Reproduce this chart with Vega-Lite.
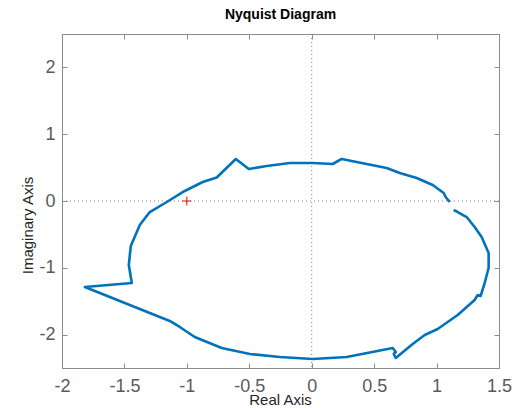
{
  "$schema": "https://vega.github.io/schema/vega-lite/v6.json",
  "width": 437,
  "height": 334,
  "autosize": {"type": "none"},
  "padding": {"left": 62, "top": 34, "right": 15, "bottom": 40},
  "background": "white",
  "title": {"text": "Nyquist Diagram", "fontSize": 14, "font": "Liberation Sans", "fontWeight": "bold", "color": "#000000", "offset": 12, "anchor": "middle"},
  "config": {
    "view": {"stroke": "#8c8c8c", "strokeWidth": 1},
    "axis": {
      "grid": false,
      "domainColor": "#8c8c8c",
      "tickColor": "#8c8c8c",
      "tickSize": -5,
      "labelFont": "Liberation Sans",
      "labelFontSize": 18,
      "labelColor": "#5a5a5a",
      "titleFont": "Liberation Sans",
      "titleFontSize": 15,
      "titleFontWeight": "normal",
      "titleColor": "#262626"
    }
  },
  "datasets": {
    "curve": [
      {"i": 1, "re": 1.137, "im": -0.135},
      {"i": 2, "re": 1.169, "im": -0.165},
      {"i": 3, "re": 1.241, "im": -0.240},
      {"i": 4, "re": 1.305, "im": -0.389},
      {"i": 5, "re": 1.361, "im": -0.539},
      {"i": 6, "re": 1.417, "im": -0.778},
      {"i": 7, "re": 1.417, "im": -1.003},
      {"i": 8, "re": 1.385, "im": -1.228},
      {"i": 9, "re": 1.353, "im": -1.422},
      {"i": 10, "re": 1.329, "im": -1.407},
      {"i": 11, "re": 1.305, "im": -1.482},
      {"i": 12, "re": 1.169, "im": -1.707},
      {"i": 13, "re": 1.009, "im": -1.916},
      {"i": 14, "re": 0.905, "im": -2.006},
      {"i": 15, "re": 0.809, "im": -2.141},
      {"i": 16, "re": 0.673, "im": -2.350},
      {"i": 17, "re": 0.657, "im": -2.290},
      {"i": 18, "re": 0.673, "im": -2.260},
      {"i": 19, "re": 0.649, "im": -2.201},
      {"i": 20, "re": 0.280, "im": -2.335},
      {"i": 21, "re": 0.008, "im": -2.365},
      {"i": 22, "re": -0.256, "im": -2.335},
      {"i": 23, "re": -0.496, "im": -2.290},
      {"i": 24, "re": -0.721, "im": -2.201},
      {"i": 25, "re": -0.937, "im": -2.036},
      {"i": 26, "re": -1.057, "im": -1.886},
      {"i": 27, "re": -1.137, "im": -1.796},
      {"i": 28, "re": -1.817, "im": -1.287},
      {"i": 29, "re": -1.441, "im": -1.228},
      {"i": 30, "re": -1.465, "im": -0.958},
      {"i": 31, "re": -1.449, "im": -0.674},
      {"i": 32, "re": -1.377, "im": -0.359},
      {"i": 33, "re": -1.297, "im": -0.165},
      {"i": 34, "re": -1.161, "im": -0.015},
      {"i": 35, "re": -1.017, "im": 0.150},
      {"i": 36, "re": -0.873, "im": 0.284},
      {"i": 37, "re": -0.761, "im": 0.352},
      {"i": 38, "re": -0.608, "im": 0.629},
      {"i": 39, "re": -0.504, "im": 0.479},
      {"i": 40, "re": -0.360, "im": 0.524},
      {"i": 41, "re": -0.176, "im": 0.569},
      {"i": 42, "re": 0.008, "im": 0.569},
      {"i": 43, "re": 0.168, "im": 0.554},
      {"i": 44, "re": 0.240, "im": 0.629},
      {"i": 45, "re": 0.440, "im": 0.554},
      {"i": 46, "re": 0.600, "im": 0.494},
      {"i": 47, "re": 0.705, "im": 0.419},
      {"i": 48, "re": 0.841, "im": 0.344},
      {"i": 49, "re": 0.969, "im": 0.240},
      {"i": 50, "re": 1.057, "im": 0.120},
      {"i": 51, "re": 1.073, "im": 0.060},
      {"i": 52, "re": 1.105, "im": -0.015}
    ]
  },
  "resolve": {"axis": {"x": "independent", "y": "independent"}},
  "layer": [
    {
      "data": {"values": [{"v": 0}]},
      "mark": {"type": "rule", "color": "#7f7f7f", "strokeWidth": 1, "strokeDash": [1, 3]},
      "encoding": {
        "x": {"field": "v", "type": "quantitative", "axis": null, "scale": {"domain": [-2, 1.5], "nice": false, "zero": false}}
      }
    },
    {
      "data": {"values": [{"v": 0}]},
      "mark": {"type": "rule", "color": "#7f7f7f", "strokeWidth": 1, "strokeDash": [1, 3]},
      "encoding": {
        "y": {"field": "v", "type": "quantitative", "axis": null, "scale": {"domain": [-2.5, 2.5], "nice": false, "zero": false}}
      }
    },
    {
      "data": {"name": "curve"},
      "mark": {"type": "line", "color": "#0072BD", "strokeWidth": 2.6, "strokeJoin": "round"},
      "encoding": {
        "x": {"field": "re", "type": "quantitative", "scale": {"domain": [-2, 1.5], "nice": false, "zero": false},
          "axis": {"orient": "bottom", "values": [-2, -1.5, -1, -0.5, 0, 0.5, 1, 1.5], "labelExpr": "'' + datum.value", "labelPadding": 14, "title": "Real Axis", "titleX": 218, "titleY": 36, "titleBaseline": "alphabetic", "labelFlush": false}},
        "y": {"field": "im", "type": "quantitative", "scale": {"domain": [-2.5, 2.5], "nice": false, "zero": false},
          "axis": {"orient": "left", "values": [-2, -1, 0, 1, 2], "labelExpr": "'' + datum.value", "labelPadding": 12, "title": "Imaginary Axis", "titleX": -35, "titleY": 191, "titleBaseline": "middle", "titleAngle": -90, "labelFlush": false}},
        "order": {"field": "i", "type": "quantitative"}
      }
    },
    {
      "data": {"values": [{"re": -1, "im": 0}]},
      "mark": {"type": "point", "shape": "M-1,0L1,0M0,-1L0,1", "filled": false, "color": "#ff0000", "strokeWidth": 1, "size": 81, "opacity": 1},
      "encoding": {
        "x": {"field": "re", "type": "quantitative", "orient": "top", "axis": {"orient": "top", "values": [-2, -1.5, -1, -0.5, 0, 0.5, 1, 1.5], "labels": false, "title": null}},
        "y": {"field": "im", "type": "quantitative", "axis": {"orient": "right", "values": [-2, -1, 0, 1, 2], "labels": false, "title": null}}
      }
    }
  ]
}
